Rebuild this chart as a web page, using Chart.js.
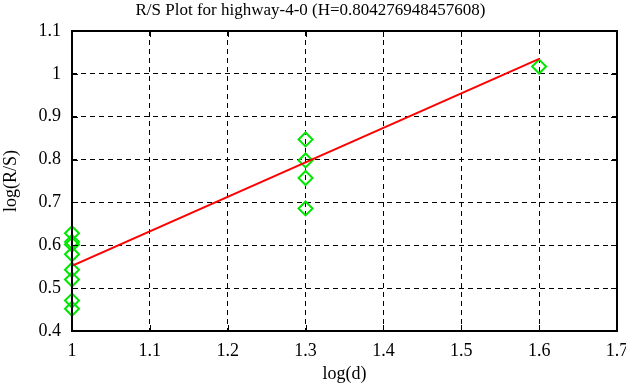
<!DOCTYPE html>
<html>
<head>
<meta charset="utf-8">
<script src="https://cdn.jsdelivr.net/npm/chart.js@4"></script>
<style>
  html, body { margin: 0; padding: 0; background: #fff; }
  #wrap { width: 626px; height: 387px; }
</style>
</head>
<body>
<div id="wrap"><canvas id="rsChart" width="626" height="387"></canvas></div>
<script>
// values
const logD = [1, 1, 1, 1, 1, 1, 1, 1, 1.3, 1.3, 1.3, 1.3, 1.6];
const logRS = [0.628, 0.608, 0.602, 0.579, 0.543, 0.520, 0.471, 0.452, 0.847, 0.798, 0.757, 0.686, 1.017];
const fitX = [1, 1.6];
const fitY = [0.552, 1.035];
const xTicks = [1, 1.1, 1.2, 1.3, 1.4, 1.5, 1.6, 1.7];
const yTicks = [0.4, 0.5, 0.6, 0.7, 0.8, 0.9, 1, 1.1];

const serif = 'Liberation Serif, Times New Roman, serif';

// frame and inward tick marks like the original plot
const framePlugin = {
  id: 'frame',
  afterDatasetsDraw(chart) {
    const { ctx, chartArea: a, scales } = chart;
    ctx.save();
    ctx.strokeStyle = '#000';
    ctx.lineWidth = 1;
    ctx.setLineDash([]);
    ctx.beginPath();
    xTicks.forEach(v => {
      const x = Math.round(scales.x.getPixelForValue(v)) + 0.5;
      ctx.moveTo(x, a.bottom); ctx.lineTo(x, a.bottom - 6);
      ctx.moveTo(x, a.top); ctx.lineTo(x, a.top + 6);
    });
    yTicks.forEach(v => {
      const y = Math.round(scales.y.getPixelForValue(v)) + 0.5;
      ctx.moveTo(a.left, y); ctx.lineTo(a.left + 6, y);
      ctx.moveTo(a.right, y); ctx.lineTo(a.right - 6, y);
    });
    ctx.stroke();
    ctx.lineWidth = 2;
    ctx.strokeRect(a.left, a.top, a.right - a.left, a.bottom - a.top);
    ctx.restore();
  }
};

const points = logD.map((x, i) => ({ x: x, y: logRS[i] }));
const fitLine = fitX.map((x, i) => ({ x: x, y: fitY[i] }));

new Chart(document.getElementById('rsChart'), {
  type: 'scatter',
  data: {
    datasets: [
      {
        label: 'fit',
        type: 'line',
        data: fitLine,
        borderColor: '#ff0000',
        borderWidth: 2,
        pointRadius: 0,
        fill: false
      },
      {
        label: 'R/S',
        data: points,
        pointStyle: 'rectRot',
        pointRadius: 7,
        borderColor: '#00e600',
        backgroundColor: 'rgba(0,0,0,0)',
        borderWidth: 2,
        clip: false
      }
    ]
  },
  options: {
    responsive: false,
    animation: false,
    layout: { padding: { top: 0, right: 5, left: 0, bottom: 0 } },
    plugins: {
      legend: { display: false },
      tooltip: { enabled: false },
      title: {
        display: true,
        text: 'R/S Plot for highway-4-0 (H=0.804276948457608)',
        color: '#000',
        font: { family: serif, size: 17, weight: 'normal' },
        padding: { top: 0, bottom: 10.6 }
      }
    },
    scales: {
      x: {
        type: 'linear',
        min: 1,
        max: 1.7,
        afterBuildTicks: s => { s.ticks = xTicks.map(v => ({ value: v })); },
        afterFit: s => { s.height = 56; s.paddingLeft = 0; s.paddingRight = 0; },
        ticks: {
          color: '#000',
          padding: 9,
          font: { family: serif, size: 18 },
          callback: v => String(v)
        },
        grid: { color: '#000', lineWidth: 1, drawTicks: false },
        border: { display: false, dash: [5, 4] },
        title: {
          display: true,
          text: 'log(d)',
          color: '#000',
          font: { family: serif, size: 18 },
          padding: { top: 4, bottom: 2 }
        }
      },
      y: {
        type: 'linear',
        min: 0.4,
        max: 1.1,
        afterBuildTicks: s => { s.ticks = yTicks.map(v => ({ value: v })); },
        afterFit: s => { s.width = 72; s.paddingTop = 0; s.paddingBottom = 0; },
        ticks: {
          color: '#000',
          padding: 11,
          font: { family: serif, size: 18 },
          callback: v => String(v)
        },
        grid: { color: '#000', lineWidth: 1, drawTicks: false },
        border: { display: false, dash: [5, 4] },
        title: {
          display: true,
          text: 'log(R/S)',
          color: '#000',
          font: { family: serif, size: 18 },
          padding: { top: 0, bottom: 2 }
        }
      }
    }
  },
  plugins: [framePlugin]
});
</script>
</body>
</html>
